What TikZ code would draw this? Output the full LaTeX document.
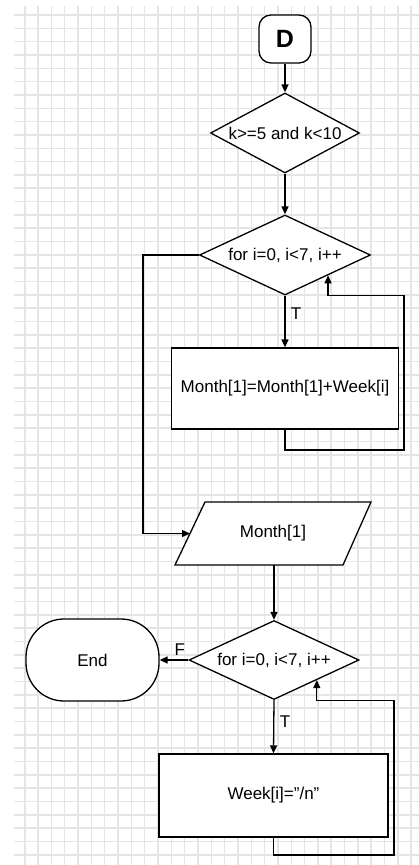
\documentclass[tikz,border=0pt]{standalone}
\usepackage{fontspec}
\setmainfont{Liberation Sans}
\usetikzlibrary{shapes.geometric,arrows.meta,calc}

\tikzset{
  every node/.style={font=\fontsize{17}{20}\selectfont},
  shapeline/.style={draw=black,line width=1.3pt,fill=white},
  decision/.style={shapeline,diamond,inner sep=0pt},
  process/.style={shapeline,rectangle,inner sep=0pt},
  terminal/.style={shapeline,rectangle,inner sep=0pt},
  arr/.style={draw=black,line width=1.3pt,-{Triangle[length=8pt,width=7pt]}},
  gridline/.style={draw=black!10,line width=1.6pt},
  branch/.style={font=\fontsize{17}{20}\selectfont},
}

\begin{document}
\begin{tikzpicture}[x=1pt,y=-1pt]
  \useasboundingbox (0,0) rectangle (419,865);
  \fill[white] (0,0) rectangle (419,865);

  % background grid
  \begin{scope}
    \clip (14,6) rectangle (419,865);
    \foreach \k in {0,...,30} {
      \draw[gridline] ({24.7+13.33*\k},6) -- ({24.7+13.33*\k},865);
    }
    \foreach \k in {0,...,64} {
      \draw[gridline] (14,{15+13.33*\k}) -- (419,{15+13.33*\k});
    }
  \end{scope}

  % start connector
  \node[terminal,rounded corners=12pt,minimum width=52pt,minimum height=48pt,
        font=\fontsize{25}{28}\selectfont\bfseries] (start) at (285,39) {D};

  % first loop
  \node[decision,minimum width=149pt,minimum height=80pt,
        label={center:k>=5 and k<10}] (cond) at (285,133) {};
  \node[decision,minimum width=171pt,minimum height=80pt,
        label={center:for i=0, i<7, i++}] (loopa) at (285,255) {};
  \node[process,minimum width=227pt,minimum height=81pt] (sum) at (285,388.5)
        {Month[1]=Month[1]+Week[i]};

  % output block (parallelogram)
  \coordinate (pTL) at (205,502);
  \coordinate (pTR) at (371,502);
  \coordinate (pBR) at (343,565);
  \coordinate (pBL) at (175,565);
  \draw[shapeline] (pTL) -- (pTR) -- (pBR) -- (pBL) -- cycle;
  \node (out) at (273,533.5) {Month[1]};
  \coordinate (outin) at ($(pTL)!0.5!(pBL)$);
  \coordinate (outbot) at (274,565);

  % second loop
  \node[decision,minimum width=170pt,minimum height=79pt,
        label={center:for i=0, i<7, i++}] (loopb) at (274,660) {};
  \node[terminal,rounded corners=38pt,minimum width=133pt,minimum height=82pt]
        (finish) at (92.5,660) {End};
  \node[process,minimum width=229pt,minimum height=83pt] (clear) at (273.5,795.5)
        {Week[i]="/n"};

  % helper corners of the loop-back paths
  \coordinate (lx) at (143,0);
  \coordinate (r1) at (404,450);
  \coordinate (r2) at (394,855);

  % connectors
  \draw[arr] (start) -- (cond);
  \draw[arr] (cond) -- (loopa);
  \draw[arr] (loopa.south) -- node[branch,pos=0.35,anchor=west,xshift=2pt] {T} (sum.north);
  \draw[arr] (sum.south) |- (r1) -- (r1 |- loopa.south) -| (loopa.south east);
  \draw[arr] (loopa.west) -- (loopa.west -| lx) |- (outin);
  \draw[arr] (outbot) -- (loopb.north);
  \draw[arr] (loopb.west) -- node[branch,pos=0.3,anchor=south,yshift=1pt] {F} (finish.east);
  \draw[arr] (loopb.south) -- node[branch,pos=0.4,anchor=west,xshift=2pt] {T} (clear.north);
  \draw[arr] (clear.south) |- (r2) -- (r2 |- loopb.south) -| (loopb.south east);
\end{tikzpicture}
\end{document}
